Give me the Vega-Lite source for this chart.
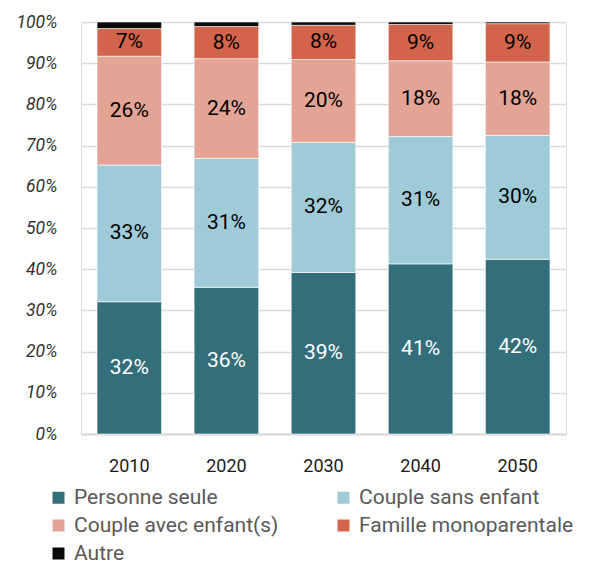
{
  "$schema": "https://vega.github.io/schema/vega-lite/v6.json",
  "autosize": "none",
  "width": 485,
  "height": 412,
  "padding": {"left": 81, "top": 22, "right": 24, "bottom": 131},
  "background": "white",
  "data": {
    "values": [
      {"year": "2010", "cat": "Personne seule", "ord": 1, "value": 0.321},
      {"year": "2010", "cat": "Couple sans enfant", "ord": 2, "value": 0.332},
      {"year": "2010", "cat": "Couple avec enfant(s)", "ord": 3, "value": 0.264},
      {"year": "2010", "cat": "Famille monoparentale", "ord": 4, "value": 0.067},
      {"year": "2010", "cat": "Autre", "ord": 5, "value": 0.016},
      {"year": "2020", "cat": "Personne seule", "ord": 1, "value": 0.356},
      {"year": "2020", "cat": "Couple sans enfant", "ord": 2, "value": 0.313},
      {"year": "2020", "cat": "Couple avec enfant(s)", "ord": 3, "value": 0.242},
      {"year": "2020", "cat": "Famille monoparentale", "ord": 4, "value": 0.078},
      {"year": "2020", "cat": "Autre", "ord": 5, "value": 0.011},
      {"year": "2030", "cat": "Personne seule", "ord": 1, "value": 0.392},
      {"year": "2030", "cat": "Couple sans enfant", "ord": 2, "value": 0.316},
      {"year": "2030", "cat": "Couple avec enfant(s)", "ord": 3, "value": 0.201},
      {"year": "2030", "cat": "Famille monoparentale", "ord": 4, "value": 0.083},
      {"year": "2030", "cat": "Autre", "ord": 5, "value": 0.008},
      {"year": "2040", "cat": "Personne seule", "ord": 1, "value": 0.413},
      {"year": "2040", "cat": "Couple sans enfant", "ord": 2, "value": 0.309},
      {"year": "2040", "cat": "Couple avec enfant(s)", "ord": 3, "value": 0.184},
      {"year": "2040", "cat": "Famille monoparentale", "ord": 4, "value": 0.088},
      {"year": "2040", "cat": "Autre", "ord": 5, "value": 0.006},
      {"year": "2050", "cat": "Personne seule", "ord": 1, "value": 0.424},
      {"year": "2050", "cat": "Couple sans enfant", "ord": 2, "value": 0.301},
      {"year": "2050", "cat": "Couple avec enfant(s)", "ord": 3, "value": 0.178},
      {"year": "2050", "cat": "Famille monoparentale", "ord": 4, "value": 0.093},
      {"year": "2050", "cat": "Autre", "ord": 5, "value": 0.004}
    ]
  },
  "transform": [
    {"stack": "value", "groupby": ["year"], "sort": [{"field": "ord", "order": "ascending"}], "as": ["y0", "y1"]}
  ],
  "encoding": {
    "x": {
      "field": "year", "type": "nominal",
      "scale": {"paddingInner": 0.335, "paddingOuter": 0.165},
      "axis": {
        "title": null, "labelAngle": 0, "ticks": false,
        "domainColor": "#d9d9d9", "domainWidth": 2,
        "labelFont": "Roboto", "labelFontSize": 18, "labelColor": "#1a1a1a",
        "labelPadding": 23
      }
    }
  },
  "layer": [
    {
      "mark": {"type": "bar", "stroke": "#ffffff", "strokeWidth": 1, "strokeOpacity": 0.6},
      "encoding": {
        "y": {
          "field": "y0", "type": "quantitative",
          "scale": {"domain": [0, 1], "nice": false},
          "axis": {
            "title": null, "values": [0, 0.1, 0.2, 0.3, 0.4, 0.5, 0.6, 0.7, 0.8, 0.9, 1],
            "format": ".0%", "domain": false, "ticks": false,
            "gridColor": "#d9d9d9", "gridWidth": 1.5,
            "labelFont": "Roboto", "labelFontStyle": "italic", "labelFontSize": 17.5,
            "labelColor": "#333333", "labelPadding": 24
          }
        },
        "y2": {"field": "y1"},
        "color": {
          "field": "cat", "type": "nominal",
          "scale": {
            "domain": ["Personne seule", "Couple sans enfant", "Couple avec enfant(s)", "Famille monoparentale", "Autre"],
            "range": ["#336e7b", "#9fcbd8", "#e3a495", "#d3644c", "#0a0a0a"]
          },
          "legend": {
            "title": null, "orient": "none", "legendX": -33, "legendY": 465,
            "direction": "horizontal", "columns": 2, "columnPadding": 54, "rowPadding": 6,
            "symbolType": "square", "symbolSize": 144, "symbolStrokeWidth": 0,
            "labelFont": "Roboto", "labelFontSize": 21, "labelColor": "#595959",
            "labelOffset": 5, "labelLimit": 400
          }
        },
        "order": {"field": "ord"}
      }
    },
    {
      "transform": [{"filter": "datum.cat != 'Autre'"}],
      "mark": {
        "type": "text", "font": "Roboto", "fontSize": 21, "baseline": "middle", "align": "center",
        "dy": {"expr": "(scale('y', datum.y1) - scale('y', datum.y0)) / 2"}
      },
      "encoding": {
        "y": {"field": "y0", "type": "quantitative"},
        "text": {"field": "value", "type": "quantitative", "format": ".0%"},
        "color": {
          "condition": {"test": "datum.cat == 'Personne seule'", "value": "#ffffff"},
          "value": "#000000"
        }
      }
    }
  ]
}
